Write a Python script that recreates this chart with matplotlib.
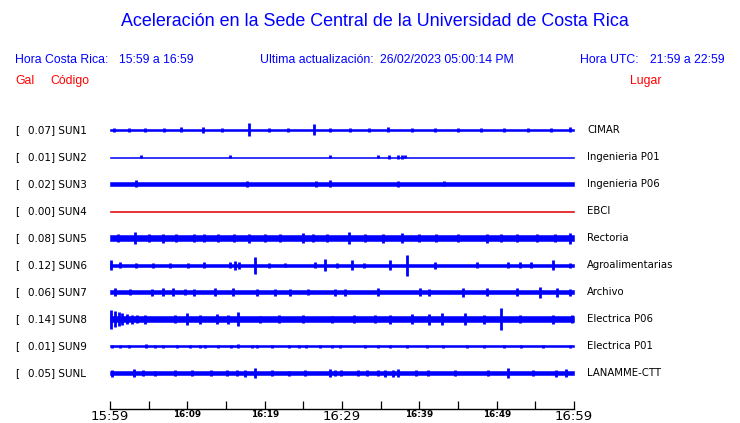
import matplotlib
matplotlib.use("Agg")
import matplotlib.pyplot as plt

W, H = 740, 423

# station codes, peak acceleration (Gal) and site names
codes = ["SUN1", "SUN2", "SUN3", "SUN4", "SUN5", "SUN6", "SUN7", "SUN8", "SUN9", "SUNL"]
gal = [0.07, 0.01, 0.02, 0.00, 0.08, 0.12, 0.06, 0.14, 0.01, 0.05]
places = ["CIMAR", "Ingenieria P01", "Ingenieria P06", "EBCI", "Rectoria",
          "Agroalimentarias", "Archivo", "Electrica P06", "Electrica P01", "LANAMME-CTT"]

# background noise half-amplitude of each trace (px) and bursts (minute, half-amplitude px)
noise = [1.4, 0.5, 2.0, 0.5, 3.0, 1.5, 2.0, 3.0, 0.6, 1.8]
bursts = {
    "SUN1": [(0.5, 2), (2.5, 2), (4.5, 2.2), (7.0, 2), (9.2, 2.5), (12.0, 3), (14.5, 2), (18.0, 6.5),
             (20.5, 2.2), (23.0, 2), (26.4, 5.5), (28.5, 2), (31.0, 2), (33.5, 2), (36.0, 2.5),
             (39.0, 2), (42.0, 2), (45.0, 2), (48.0, 2.2), (51.0, 2), (54.0, 2), (57.0, 2.2), (59.5, 2.5)],
    "SUN2": [(4.0, 1.5), (15.5, 1.5), (28.5, 1.5), (34.7, 1.5), (36.1, 2), (37.2, 1.8), (37.7, 1.8), (38.1, 1.5)],
    "SUN3": [(3.4, 3.5), (17.7, 3), (26.6, 3), (28.5, 3.5), (37.3, 3), (43.2, 2.5)],
    "SUN4": [],
    "SUN5": [(1.0, 4), (3.2, 6), (5.0, 4), (6.9, 4.5), (8.5, 4), (10.9, 4), (12.1, 4), (14.0, 4), (16.0, 4),
             (18.0, 4.5), (20.0, 4), (22.0, 4), (25.0, 5), (26.3, 4), (28.0, 4), (30.9, 6), (33.0, 4),
             (35.3, 4.5), (37.7, 5), (40.0, 4), (42.2, 4), (45.0, 4), (48.7, 4.5), (50.5, 4), (52.6, 4),
             (55.2, 4), (57.5, 4), (59.5, 5.5)],
    "SUN6": [(0.1, 5), (1.3, 3), (3.4, 2.5), (5.6, 2.5), (7.8, 2.5), (10.1, 2.5), (12.1, 3), (15.5, 3),
             (16.1, 4.5), (16.7, 3.5), (18.8, 8.5), (20.5, 2.5), (22.6, 2), (26.5, 3), (27.8, 6), (29.3, 2.5),
             (31.3, 5), (32.8, 2.5), (36.2, 5), (38.4, 10.5), (42.0, 3.5), (47.4, 3), (51.5, 3), (53.0, 3),
             (54.5, 3), (57.3, 5), (59.5, 2.5)],
    "SUN7": [(0.65, 4), (2.6, 3), (5.4, 3.5), (6.9, 4), (8.2, 4), (9.7, 3), (10.8, 3.5), (13.6, 4),
             (15.9, 4), (19.0, 3.5), (21.3, 3.5), (23.3, 3.5), (25.6, 3), (29.1, 3.5), (30.4, 3.5),
             (34.7, 4), (40.1, 4), (41.2, 3.5), (45.7, 4.5), (48.7, 4), (52.6, 4), (55.6, 5.5),
             (57.8, 4.5), (59.5, 3.5)],
    "SUN8": [(0.1, 9.5), (0.6, 8), (1.1, 7), (1.5, 6), (2.2, 5), (2.8, 4.5), (3.5, 4), (4.5, 4.5),
             (8.4, 4), (9.9, 6), (11.6, 4.5), (13.8, 5), (15.3, 4.5), (16.6, 7), (19.4, 3.5), (21.8, 4),
             (25.0, 4), (28.7, 3.5), (31.5, 4), (34.3, 4), (36.2, 4.5), (39.0, 5), (41.2, 5.5), (42.9, 6),
             (45.9, 6), (48.3, 4.5), (50.5, 11), (53.0, 4), (57.3, 4.5), (59.7, 4)],
    "SUN9": [(0.2, 1.5), (1.3, 1.5), (2.4, 1.5), (4.7, 2), (5.8, 1.5), (6.9, 1.5), (8.6, 1.5),
             (10.3, 1.5), (11.6, 1.5), (12.3, 1.5), (14.0, 1.5), (15.7, 1.5), (16.6, 2), (18.3, 1.5),
             (19.0, 1.5), (20.9, 1.5), (23.1, 1.5), (24.4, 1.5), (25.4, 1.5), (27.2, 1.5), (28.7, 1.5),
             (29.7, 1.5), (33.0, 1.5), (34.7, 1.5), (36.2, 1.5), (38.4, 1.5), (41.0, 1.5), (43.1, 1.5),
             (46.1, 1.5), (48.3, 1.5), (50.9, 1.5), (53.2, 1.5), (56.0, 1.5), (59.5, 1.5)],
    "SUNL": [(0.2, 3.5), (3.1, 4), (4.3, 3), (5.8, 2.5), (8.4, 3), (10.6, 3), (13.1, 3), (15.1, 3),
             (16.4, 3), (17.5, 3.5), (18.7, 5), (20.9, 3), (23.1, 2.5), (25.2, 3), (28.4, 4), (29.1, 3),
             (29.9, 3), (32.1, 3), (33.2, 3), (34.7, 3), (35.6, 3.5), (36.6, 3.5), (37.3, 4), (39.6, 3),
             (41.1, 3), (44.6, 3), (48.9, 3), (51.5, 5), (54.7, 3), (57.7, 3.5), (59.0, 4)],
}

tick_minutes = list(range(0, 61, 5))
tick_labels = ["15:59", "", "16:09", "", "16:19", "", "16:29", "", "16:39", "", "16:49", "", "16:59"]

title = "Aceleración en la Sede Central de la Universidad de Costa Rica"
blue = "#0000ff"
red = "#ff0000"

fig = plt.figure(figsize=(W / 100, H / 100), dpi=100)


def px_text(x, y, s, **kw):
    # place text using pixel coordinates of the 740x423 canvas
    kw.setdefault("va", "center")
    fig.text(x / W, 1 - y / H, s, **kw)


# header
px_text(375, 22, title, ha="center", color=blue, fontsize=12.9, family="Liberation Sans")
hfont = dict(color=blue, fontsize=8.8, family="Liberation Sans")
px_text(15, 60, "Hora Costa Rica:", **hfont)
px_text(119, 60, "15:59 a 16:59", **hfont)
px_text(260, 60, "Ultima actualización:", **hfont)
px_text(380, 60, "26/02/2023 05:00:14 PM", **hfont)
px_text(580, 60, "Hora UTC:", **hfont)
px_text(650, 60, "21:59 a 22:59", **hfont)
rfont = dict(color=red, fontsize=8.8, family="Liberation Sans")
px_text(15, 81, "Gal", **rfont)
px_text(50, 81, "Código", **rfont)
px_text(630, 81, "Lugar", **rfont)

# trace axes: x in minutes, y in canvas pixels
ax_bottom = 409
ax = fig.add_axes([110 / W, (H - ax_bottom) / H, 464 / W, ax_bottom / H])
ax.set_xlim(0, 60)
ax.set_ylim(ax_bottom, 0)

row0, step = 130, 27
for i, code in enumerate(codes):
    y = row0 + i * step
    col = "#e00000" if gal[i] == 0 else blue
    b = noise[i]
    ax.fill_between([0, 60], y - b, y + b, color=col, lw=0.4)
    bl = bursts[code]
    if bl:
        m = [t for t, _ in bl]
        a = [v for _, v in bl]
        ax.vlines(m, [y - v for v in a], [y + v for v in a], color=col, lw=2.0)
    px_text(15, y, "[", color="black", fontsize=7.5)
    px_text(28, y, f"{gal[i]:.2f}] {code}", color="black", fontsize=7.5)
    px_text(587, y, places[i], color="black", fontsize=7.3)

for s in ["top", "left", "right"]:
    ax.spines[s].set_visible(False)
ax.spines["bottom"].set_linewidth(1)
ax.set_yticks([])
ax.set_xticks(tick_minutes)
ax.set_xticklabels(tick_labels)
ax.tick_params(axis="x", direction="in", length=5.8, width=0.9, pad=0.5, color="black")
for lab in ax.get_xticklabels():
    if lab.get_text() in ("15:59", "16:29", "16:59"):
        lab.set_fontsize(9.5)
    else:
        lab.set_fontsize(6.3)
        lab.set_fontweight("bold")

fig.savefig("out.png", dpi=100)
